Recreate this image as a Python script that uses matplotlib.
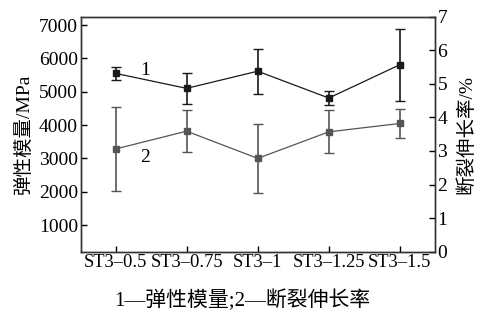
import numpy as np
from matplotlib import pyplot as plt

plt.rcParams['font.family'] = ['Liberation Serif', 'Noto Sans CJK SC']

samples = ['ST3–0.5', 'ST3–0.75', 'ST3–1', 'ST3–1.25', 'ST3–1.5']
modulus = [5550, 5100, 5615, 4810, 5810]          # MPa
modulus_err = [200, 470, 675, 220, 1080]
elong = [3.06, 3.59, 2.78, 3.57, 3.82]            # %
elong_err = [1.25, 0.63, 1.03, 0.64, 0.42]

x = np.arange(len(samples))

fig = plt.figure(figsize=(4.79, 3.22), dpi=100)
ax = fig.add_axes([80.7/479, 1-251.7/322, 354/479, 235/322])
ax2 = ax.twinx()

ax.errorbar(x, modulus, yerr=modulus_err, color='#1a1a1a', lw=0.9, marker='s',
            ms=4.5, capsize=3.5, elinewidth=1.2, capthick=1)
ax2.errorbar(x, elong, yerr=elong_err, color='#555555', lw=0.9, marker='s',
             ms=4.5, capsize=3.5, elinewidth=1.2, capthick=1)

ax.set_xlim(-0.49, 4.49)
ax.set_ylim(200, 7250)
ax2.set_ylim(0, 7)
ax.set_yticks(range(1000, 7001, 1000))
ax2.set_yticks(range(0, 8))
ax.set_xticks(x)
ax.set_xticklabels(samples)

for a in (ax, ax2):
    a.tick_params(direction='in', length=4, width=1, labelsize=14, pad=2)
    for s in a.spines.values():
        s.set_linewidth(1)
        s.set_color('#333333')
ax.tick_params(axis='x', labelsize=13.3)

ax.set_ylabel('弹性模量/MPa', fontsize=14)
ax2.set_ylabel('断裂伸长率/%', fontsize=14)
ax.yaxis.set_label_coords(-0.135, 0.5)
ax2.yaxis.set_label_coords(1.062, 0.5)

ax.text(0.42, 5650, '1', fontsize=14, ha='center', va='center')
ax.text(0.42, 3040, '2', fontsize=14, ha='center', va='center')

fig.text(242/479, 1-300/322, '1—弹性模量;2—断裂伸长率', fontsize=15,
         ha='center', va='center')

fig.savefig('out.png', dpi=100)
